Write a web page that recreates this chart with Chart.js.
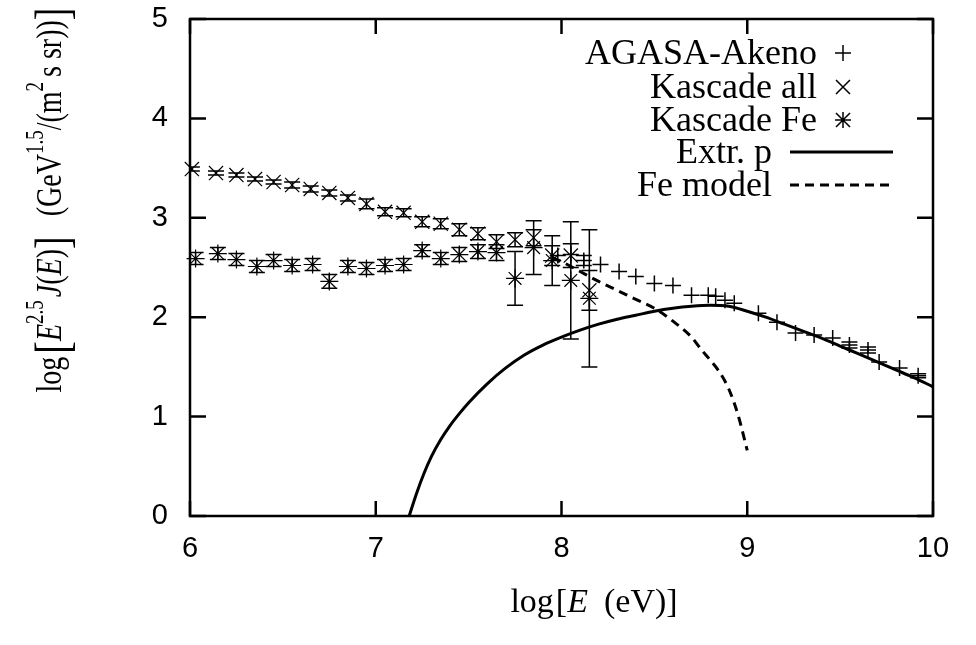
<!DOCTYPE html>
<html>
<head>
<meta charset="utf-8">
<script src="https://cdn.jsdelivr.net/npm/chart.js@4.4.0/dist/chart.umd.min.js"></script>
<style>
  html, body { margin: 0; padding: 0; background: #fff; }
  #wrap { width: 976px; height: 645px; }
</style>
</head>
<body>
<div id="wrap"><canvas id="chart" width="976" height="645"></canvas></div>
<script>
// AGASA-Akeno (+)
const agasaX = [7.98, 8.05, 8.12, 8.21, 8.31, 8.40, 8.50, 8.60, 8.70, 8.79, 8.83, 8.88, 8.93, 9.06, 9.16, 9.26, 9.36, 9.46, 9.55, 9.65, 9.71, 9.82, 9.92];
const agasaY = [2.62, 2.63, 2.57, 2.53, 2.46, 2.41, 2.34, 2.32, 2.22, 2.22, 2.21, 2.17, 2.14, 2.04, 1.95, 1.84, 1.82, 1.79, 1.72, 1.67, 1.55, 1.49, 1.41];
const agasaErr = [0, 0, 0.05, 0, 0, 0, 0, 0, 0, 0, 0, 0, 0, 0, 0, 0, 0, 0, 0.03, 0.03, 0, 0, 0.02];

// Kascade all (x)
const kasAllX = [6.01, 6.14, 6.25, 6.35, 6.45, 6.55, 6.65, 6.75, 6.85, 6.95, 7.05, 7.15, 7.25, 7.35, 7.45, 7.55, 7.65, 7.75, 7.85, 7.95, 8.05, 8.15];
const kasAllY = [3.49, 3.45, 3.43, 3.39, 3.36, 3.33, 3.29, 3.25, 3.20, 3.14, 3.06, 3.05, 2.96, 2.94, 2.88, 2.84, 2.76, 2.78, 2.80, 2.62, 2.62, 2.27];
const kasAllErr = [0.02, 0.02, 0.02, 0.02, 0.02, 0.03, 0.03, 0.03, 0.03, 0.05, 0.04, 0.04, 0.05, 0.05, 0.06, 0.06, 0.07, 0.07, 0.08, 0.10, 0.12, 0.20];

// Kascade Fe (*)
const kasFeX = [6.03, 6.15, 6.25, 6.36, 6.45, 6.55, 6.66, 6.75, 6.85, 6.95, 7.05, 7.15, 7.25, 7.35, 7.45, 7.55, 7.65, 7.75, 7.85, 7.95, 8.05, 8.15];
const kasFeY = [2.59, 2.64, 2.58, 2.51, 2.57, 2.52, 2.53, 2.36, 2.51, 2.49, 2.52, 2.53, 2.67, 2.59, 2.63, 2.66, 2.65, 2.39, 2.70, 2.57, 2.37, 2.19];
const kasFeErr = [0.06, 0.06, 0.06, 0.06, 0.06, 0.06, 0.06, 0.07, 0.06, 0.06, 0.06, 0.06, 0.06, 0.06, 0.07, 0.07, 0.08, 0.27, 0.27, 0.25, 0.59, 0.69];

// Extr. p (solid)
const extrX = [7.18, 7.22, 7.26, 7.30, 7.35, 7.40, 7.45, 7.50, 7.60, 7.70, 7.80, 7.90, 8.00, 8.10, 8.20, 8.30, 8.40, 8.50, 8.60, 8.70, 8.80, 8.90, 9.00, 9.10, 9.20, 9.30, 9.40, 9.50, 9.60, 9.70, 9.80, 9.90, 10.00];
const extrY = [0.00, 0.23, 0.43, 0.60, 0.77, 0.91, 1.03, 1.14, 1.33, 1.49, 1.62, 1.72, 1.80, 1.87, 1.93, 1.98, 2.02, 2.06, 2.09, 2.11, 2.12, 2.11, 2.06, 2.00, 1.93, 1.86, 1.79, 1.71, 1.63, 1.55, 1.47, 1.39, 1.30];

// Fe model (dashed)
const feModelX = [7.95, 8.00, 8.10, 8.20, 8.30, 8.40, 8.50, 8.60, 8.70, 8.75, 8.80, 8.85, 8.90, 8.95, 9.00];
const feModelY = [2.60, 2.56, 2.46, 2.36, 2.27, 2.18, 2.09, 1.96, 1.80, 1.68, 1.57, 1.45, 1.28, 1.02, 0.66];

const legendLabels = ['AGASA-Akeno', 'Kascade all', 'Kascade Fe', 'Extr. p', 'Fe model'];
const legendMarks = ['plus', 'cross', 'star', 'solid', 'dashed'];

const SERIF = '"Liberation Serif", "Times New Roman", serif';
const SANS = '"Liberation Sans", Arial, sans-serif';

const pts = (xs, ys) => xs.map((x, i) => ({x: x, y: ys[i]}));

// draw a string made of pieces with their own font / raise
function drawRich(ctx, parts, x, y, align) {
    let total = 0;
    parts.forEach(p => { ctx.font = p.font; total += ctx.measureText(p.t).width + (p.gap || 0); });
    let cx = align === 'center' ? x - total / 2 : x;
    ctx.textAlign = 'left';
    ctx.textBaseline = 'alphabetic';
    parts.forEach(p => {
        ctx.font = p.font;
        ctx.fillText(p.t, cx, y + (p.dy || 0));
        cx += ctx.measureText(p.t).width + (p.gap || 0);
    });
}

function mark(ctx, kind, x, y) {
    ctx.beginPath();
    if (kind === 'plus' || kind === 'star') {
        ctx.moveTo(x - 8, y); ctx.lineTo(x + 8, y);
        ctx.moveTo(x, y - 8); ctx.lineTo(x, y + 8);
    }
    if (kind === 'cross' || kind === 'star') {
        ctx.moveTo(x - 7, y - 7); ctx.lineTo(x + 7, y + 7);
        ctx.moveTo(x - 7, y + 7); ctx.lineTo(x + 7, y - 7);
    }
    ctx.stroke();
}

const errorBars = {
    id: 'errorBars',
    afterDatasetsDraw(chart) {
        const {ctx, chartArea, scales} = chart;
        ctx.save();
        ctx.beginPath();
        ctx.rect(chartArea.left, chartArea.top, chartArea.right - chartArea.left, chartArea.bottom - chartArea.top);
        ctx.clip();
        ctx.strokeStyle = '#000';
        ctx.lineWidth = 1.5;
        chart.data.datasets.forEach(ds => {
            if (!ds.errors) return;
            ds.data.forEach((p, i) => {
                const e = ds.errors[i];
                if (!e) return;
                const px = scales.x.getPixelForValue(p.x);
                const top = scales.y.getPixelForValue(p.y + e);
                const bot = scales.y.getPixelForValue(p.y - e);
                ctx.beginPath();
                ctx.moveTo(px, top); ctx.lineTo(px, bot);
                ctx.moveTo(px - 8, top); ctx.lineTo(px + 8, top);
                ctx.moveTo(px - 8, bot); ctx.lineTo(px + 8, bot);
                ctx.stroke();
            });
        });
        ctx.restore();
    }
};

// frame, inward ticks, titles and the legend
const decor = {
    id: 'decor',
    afterDraw(chart) {
        const {ctx, chartArea: a, scales} = chart;
        ctx.save();
        ctx.strokeStyle = '#000';
        ctx.fillStyle = '#000';
        ctx.lineWidth = 2.5;
        ctx.strokeRect(a.left, a.top, a.right - a.left, a.bottom - a.top);
        ctx.beginPath();
        scales.x.ticks.forEach(t => {
            const px = scales.x.getPixelForValue(t.value);
            ctx.moveTo(px, a.bottom); ctx.lineTo(px, a.bottom - 15);
            ctx.moveTo(px, a.top); ctx.lineTo(px, a.top + 15);
        });
        scales.y.ticks.forEach(t => {
            const py = scales.y.getPixelForValue(t.value);
            ctx.moveTo(a.left, py); ctx.lineTo(a.left + 16, py);
            ctx.moveTo(a.right, py); ctx.lineTo(a.right - 16, py);
        });
        ctx.stroke();

        // x title
        const f = 34;
        drawRich(ctx, [
            {t: 'log', font: f + 'px ' + SERIF, gap: 2},
            {t: '[', font: f + 'px ' + SERIF},
            {t: 'E', font: 'italic ' + f + 'px ' + SERIF, gap: 16},
            {t: '(eV)', font: f + 'px ' + SERIF},
            {t: ']', font: f + 'px ' + SERIF}
        ], 594, 612, 'center');

        // y title (glyphs a little taller across the axis, as in the original)
        ctx.translate(61, 200);
        ctx.rotate(-Math.PI / 2);
        ctx.scale(1, 1.3);
        const big = '38px ' + SERIF, n = '28px ' + SERIF, it = 'italic 28px ' + SERIF, sup = '19px ' + SERIF;
        drawRich(ctx, [
            {t: 'log', font: n, gap: 3},
            {t: '[', font: big, dy: 5},
            {t: 'E', font: it},
            {t: '2.5', font: sup, dy: -14, gap: 3},
            {t: 'J', font: it},
            {t: '(', font: n},
            {t: 'E', font: it},
            {t: ')', font: n},
            {t: ']', font: big, dy: 5, gap: 20},
            {t: '(GeV', font: n},
            {t: '1.5', font: sup, dy: -14},
            {t: '/(m', font: n},
            {t: '2', font: sup, dy: -14, gap: 5},
            {t: 's sr))', font: n},
            {t: ']', font: big, dy: 5}
        ], 0, 0, 'center');
        ctx.setTransform(1, 0, 0, 1, 0, 0);

        // legend
        const rows = [53, 87, 120, 152, 185];
        const textRight = [817, 817, 817, 772, 772];
        ctx.font = '36px ' + SERIF;
        ctx.textAlign = 'right';
        ctx.textBaseline = 'alphabetic';
        legendLabels.forEach((lab, i) => {
            ctx.fillText(lab, textRight[i], rows[i] + 11);
            const m = legendMarks[i];
            if (m === 'solid' || m === 'dashed') {
                ctx.lineWidth = 3;
                ctx.setLineDash(m === 'dashed' ? [9, 6] : []);
                ctx.beginPath();
                ctx.moveTo(790, rows[i]); ctx.lineTo(893, rows[i]);
                ctx.stroke();
                ctx.setLineDash([]);
            } else {
                ctx.lineWidth = 1.5;
                mark(ctx, m, 843, rows[i]);
            }
        });
        ctx.restore();
    }
};

const ctx = document.getElementById('chart').getContext('2d');
new Chart(ctx, {
    type: 'scatter',
    data: {
        datasets: [{
            label: 'AGASA-Akeno',
            data: pts(agasaX, agasaY),
            errors: agasaErr,
            pointStyle: 'cross',
            pointRadius: 8,
            pointBorderWidth: 1.5,
            borderColor: '#000',
            backgroundColor: '#000',
            clip: 20
        }, {
            label: 'Kascade all',
            data: pts(kasAllX, kasAllY),
            errors: kasAllErr,
            pointStyle: 'crossRot',
            pointRadius: 10,
            pointBorderWidth: 1.2,
            borderColor: '#000',
            backgroundColor: '#000',
            clip: 20
        }, {
            label: 'Kascade Fe',
            data: pts(kasFeX, kasFeY),
            errors: kasFeErr,
            pointStyle: 'star',
            pointRadius: 9,
            pointBorderWidth: 1.2,
            borderColor: '#000',
            backgroundColor: '#000',
            clip: 20
        }, {
            label: 'Extr. p',
            type: 'line',
            data: pts(extrX, extrY),
            borderColor: '#000',
            borderWidth: 3,
            pointRadius: 0,
            cubicInterpolationMode: 'monotone',
            fill: false
        }, {
            label: 'Fe model',
            type: 'line',
            data: pts(feModelX, feModelY),
            borderColor: '#000',
            borderWidth: 3,
            borderDash: [9, 6],
            pointRadius: 0,
            cubicInterpolationMode: 'monotone',
            fill: false
        }]
    },
    options: {
        responsive: false,
        animation: false,
        layout: { padding: { left: 0, right: 43, top: 0, bottom: 0 } },
        scales: {
            x: {
                type: 'linear',
                min: 6,
                max: 10,
                grid: { display: false, drawTicks: false },
                border: { display: false },
                ticks: {
                    stepSize: 1,
                    padding: 16,
                    color: '#000',
                    font: { family: SANS, size: 29 }
                },
                afterFit: scale => { scale.height = 129; scale.paddingTop = 0; scale.paddingBottom = 0; }
            },
            y: {
                type: 'linear',
                min: 0,
                max: 5,
                grid: { display: false, drawTicks: false },
                border: { display: false },
                ticks: {
                    stepSize: 1,
                    padding: 22,
                    color: '#000',
                    font: { family: SANS, size: 29 }
                },
                afterFit: scale => { scale.width = 190; scale.paddingTop = 19; scale.paddingBottom = 0; }
            }
        },
        plugins: {
            legend: { display: false },
            tooltip: { enabled: false }
        }
    },
    plugins: [errorBars, decor]
});
</script>
</body>
</html>
